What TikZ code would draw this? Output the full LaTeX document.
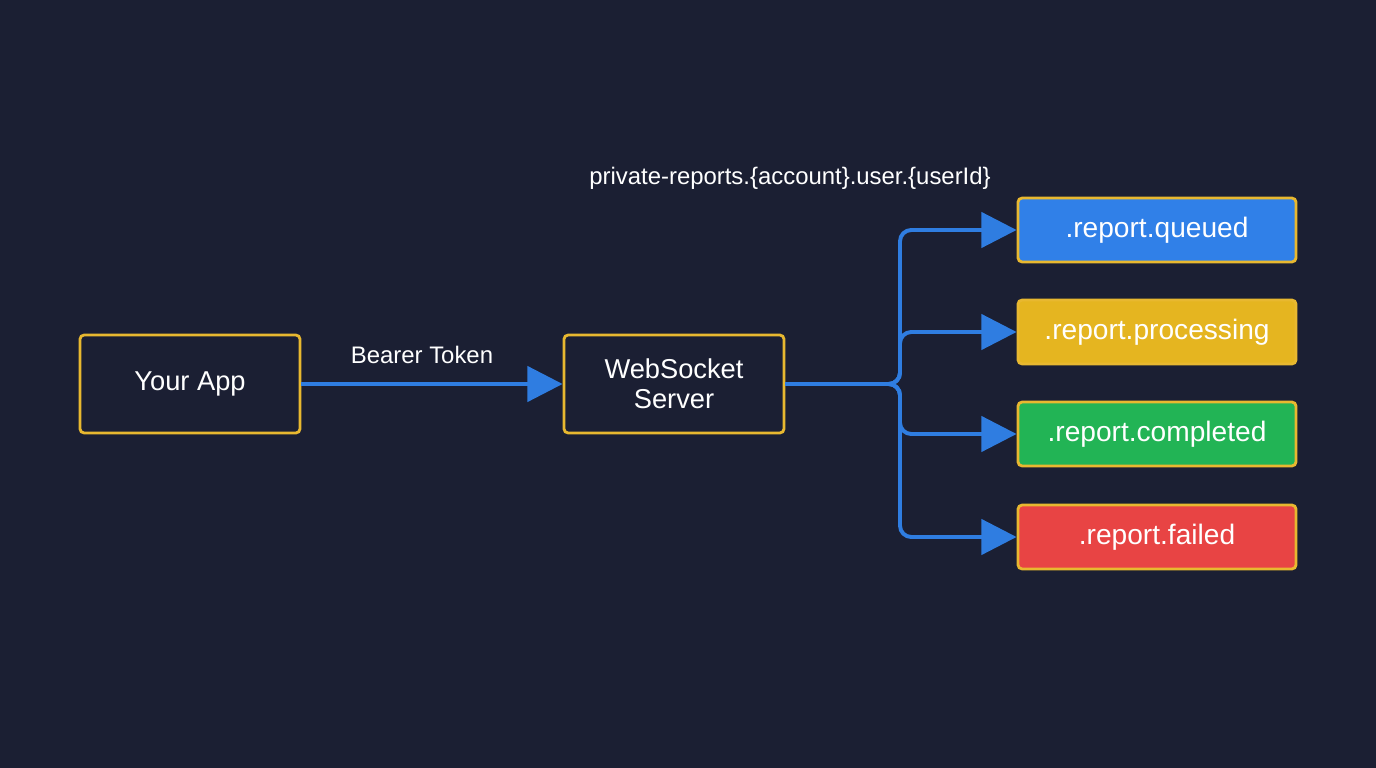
\documentclass[tikz,border=0pt]{standalone}
\usepackage{fontspec}
\setmainfont{Liberation Sans}
\usetikzlibrary{arrows.meta}
\definecolor{bg}{HTML}{1B1F33}
\definecolor{ylw}{HTML}{E8B830}
\definecolor{blu}{HTML}{2F7DE1}
\definecolor{bfill}{HTML}{3080E8}
\definecolor{pfill}{HTML}{E5B520}
\definecolor{gfill}{HTML}{22B455}
\definecolor{rfill}{HTML}{E84444}
\begin{document}
\begin{tikzpicture}[x=0.025cm,y=-0.025cm,
  box/.style={draw=ylw,line width=2pt,rounded corners=3pt,text=white,align=center,inner sep=0pt},
  big/.style={box,font=\fontsize{19.4}{21}\selectfont,minimum width=5.5cm,minimum height=2.45cm},
  ev/.style={box,font=\fontsize{20}{22}\selectfont,minimum width=6.95cm,minimum height=1.6cm},
  arr/.style={draw=blu,line width=2.8pt,rounded corners=8pt,-{Triangle[length=25pt,width=25pt]}},
  lbl/.style={text=white,font=\fontsize{17}{19}\selectfont}]
\fill[bg] (0,0) rectangle (1376,768);
\node[big] (app) at (190,384) {Your App};
\node[big] (ws) at (674,384) {WebSocket\\Server};
\node[ev,fill=bfill] (q) at (1157,230) {.report.queued};
\node[ev,fill=pfill] (p) at (1157,332) {.report.processing};
\node[ev,fill=gfill] (c) at (1157,434) {.report.completed};
\node[ev,fill=rfill] (f) at (1157,537) {.report.failed};
\node[lbl] (bt) at (422,355) {Bearer Token};
\node[lbl] (ch) at (790,178) {private-reports.\{account\}.user.\{userId\}};
\coordinate (j) at (900,384);
\draw[arr,rounded corners=0pt] (app.east) -- (ws.west);
\foreach \t in {q,p,c,f}{\draw[arr] (ws.east) -- (j) |- (\t.west);}
\end{tikzpicture}
\end{document}
